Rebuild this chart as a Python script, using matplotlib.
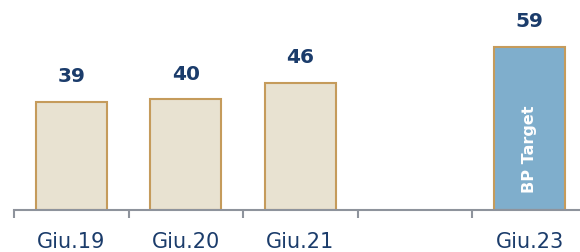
import numpy as np
from matplotlib import pyplot as plt

# Data
categories = ['Giu.19', 'Giu.20', 'Giu.21', '', 'Giu.23']
values = [39, 40, 46, np.nan, 59]
is_target = [False, False, False, False, True]

# Colours
fill_hist = '#E8E2D1'
fill_target = '#7FAECC'
edge = '#C59B5B'
navy = '#1B3C6B'
axis_grey = '#8E939C'

fig = plt.figure(figsize=(5.8, 2.52), dpi=100, facecolor='white')
ax = fig.add_axes([14 / 580, 42 / 252, 1 - 14 / 580, 210 / 252])

x = np.arange(len(categories))
for i, (v, tgt) in enumerate(zip(values, is_target)):
        if np.isnan(v):
                continue
        ax.bar(x[i], v, width=0.62, color=fill_target if tgt else fill_hist,
               edgecolor=edge, linewidth=1.5, zorder=2)
        ax.annotate(f'{v:.0f}', (x[i], v), xytext=(0, 18),
                    textcoords='offset points', ha='center', va='center',
                    fontsize=14.5, fontweight='bold', color=navy)
        if tgt:
                ax.text(x[i], 22, 'BP Target', rotation=90,
                        ha='center', va='center', color='white',
                        fontsize=11.5, fontweight='bold')

ax.set_xlim(-0.5, 4.44)
ax.set_ylim(0, 75.8)

for s in ['top', 'right', 'left']:
        ax.spines[s].set_visible(False)
ax.spines['bottom'].set_color(axis_grey)
ax.spines['bottom'].set_linewidth(1.5)
ax.spines['bottom'].set_zorder(3)

ax.set_yticks([])
ax.set_xticks(x)
ax.set_xticklabels(categories, fontsize=15, color=navy)
ax.tick_params(axis='x', which='major', length=0, pad=16)
ax.set_xticks(np.arange(-0.5, 4.5, 1.0), minor=True)
ax.tick_params(axis='x', which='minor', length=6, width=1.5,
               color=axis_grey)

fig.savefig('out.png', dpi=100, facecolor='white')
